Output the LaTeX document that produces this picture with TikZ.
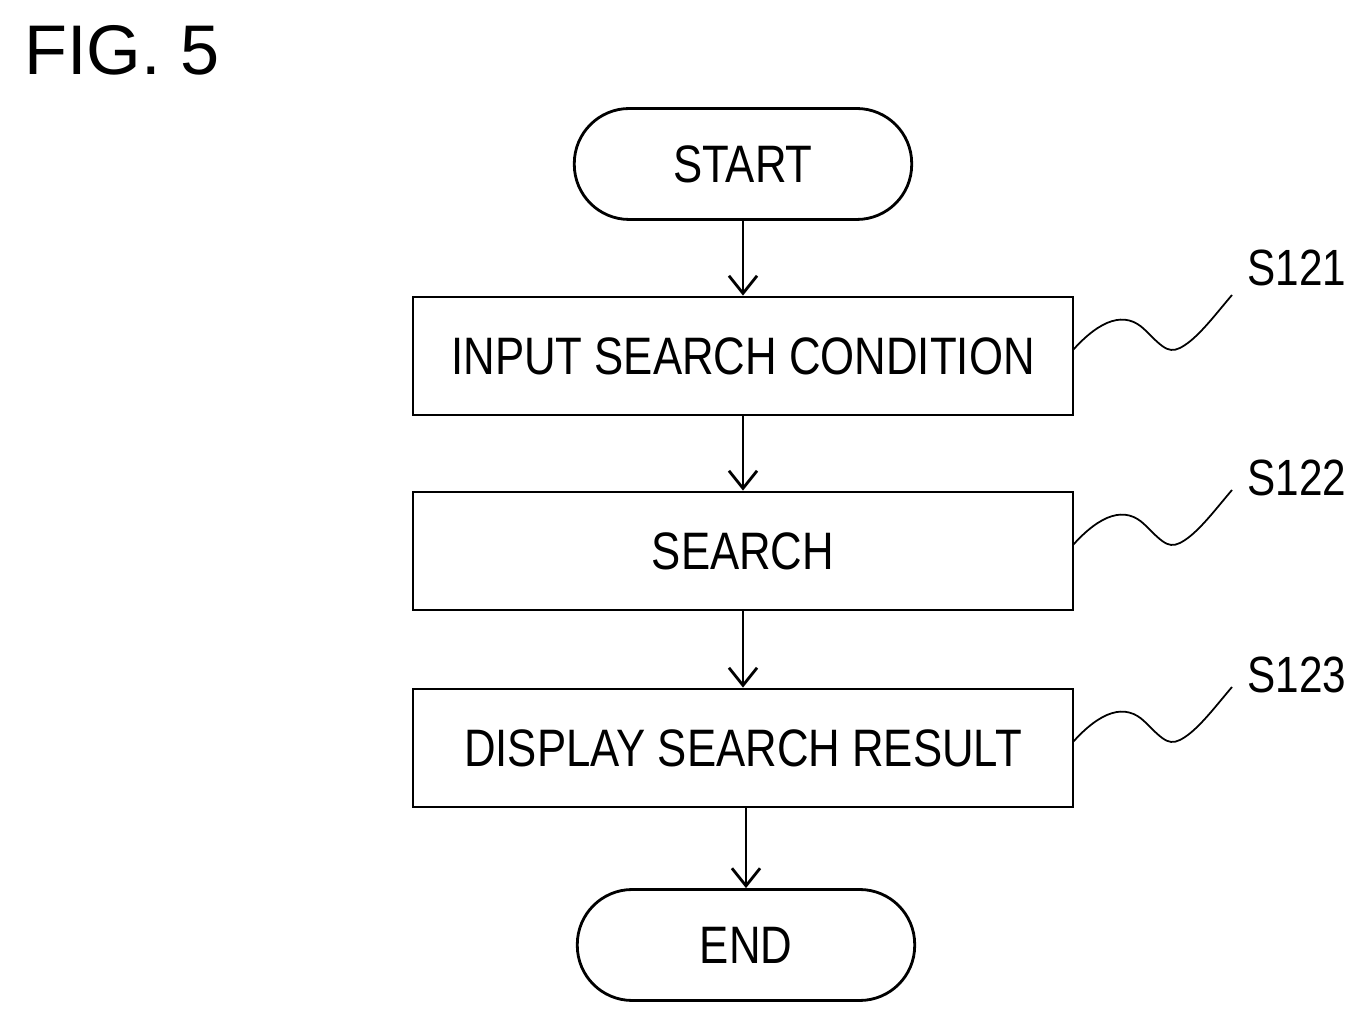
\documentclass[tikz,border=0pt]{standalone}
\usepackage{fontspec}
\setmainfont{Liberation Sans}
\newfontfamily\cond[FakeStretch=0.83]{Liberation Sans}
\usetikzlibrary{arrows.meta}
\begin{document}
\begin{tikzpicture}[x=0.02cm,y=-0.02cm,
  box/.style={draw,line width=1.6pt,minimum width=13.2cm,minimum height=2.36cm,font=\cond\fontsize{30}{31}\selectfont},
  term/.style={draw,line width=1.6pt,rounded corners=1.1cm,minimum width=6.75cm,minimum height=2.22cm,font=\cond\fontsize{30}{31}\selectfont},
  arr/.style={line width=1.6pt,-{Straight Barb[length=10pt,width=16pt,line width=1.6pt]}},
  lead/.style={line width=1pt},
  lab/.style={font=\cond\fontsize{29}{30}\selectfont}]
\useasboundingbox (0,0) rectangle (1370,1026);
\node[anchor=west,font=\fontsize{40}{42}\selectfont] (fig) at (18,50) {FIG. 5};
\node[term] (start) at (743,164) {START};
\node[box] (b1) at (743,356) {INPUT SEARCH CONDITION};
\node[box] (b2) at (743,551) {SEARCH};
\node[box] (b3) at (743,748) {DISPLAY SEARCH RESULT};
\node[term] (end) at (746,945) {END};
\draw[arr] (start) -- (b1);
\draw[arr] (b1) -- (b2);
\draw[arr] (b2) -- (b3);
\draw[arr] (b3.south -| end) -- (end);
\node[lab] (l1) at (1297,268) {S121};
\node[lab] (l2) at (1297,478) {S122};
\node[lab] (l3) at (1297,675) {S123};
\foreach \b/\y in {b1/350,b2/545,b3/742}{
  \coordinate (s) at (1073,\y);
  \draw[lead] (s) .. controls (1100,\y-30) and (1125,\y-40) .. (1145,\y-20)
     .. controls (1165,\y) and (1170,\y+5) .. (1185,\y-5)
     .. controls (1200,\y-15) and (1215,\y-35) .. (1232,\y-55);
}
\end{tikzpicture}
\end{document}
